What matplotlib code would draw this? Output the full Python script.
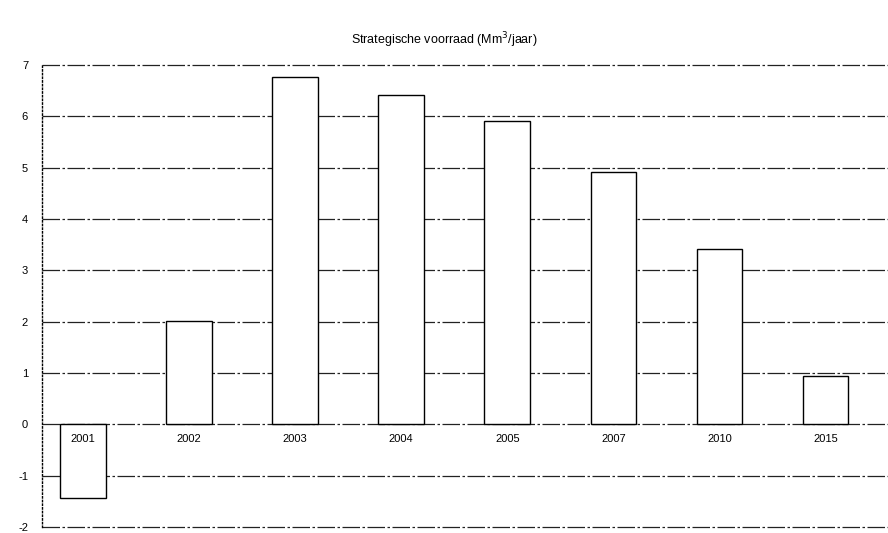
import numpy as np
import matplotlib
matplotlib.use('Agg')
import matplotlib.pyplot as plt

plt.rcParams['font.family'] = ['Liberation Sans', 'DejaVu Sans']

jaren = ['2001', '2002', '2003', '2004', '2005', '2007', '2010', '2015']
voorraad = [-1.44, 2.01, 6.77, 6.41, 5.91, 4.91, 3.41, 0.95]
yticks = [-2, -1, 0, 1, 2, 3, 4, 5, 6, 7]

fig = plt.figure(figsize=(8.88, 5.33), dpi=100)
bot = 527
ax = fig.add_axes([42/888, 1-bot/533, 1-42/888, (bot-65)/533])

x = np.arange(len(jaren))
ax.bar(x, voorraad, width=0.43, color='white', edgecolor='black', linewidth=1.0, zorder=3)

# grid lines, dashed like the scanned original
for y in yticks:
    ax.axhline(y, color='#222222', linewidth=0.9, linestyle=(0, (14, 2, 2, 2)), zorder=1, clip_on=False)

for i, lab in enumerate(jaren):
    ax.text(x[i], -0.18, lab, ha='center', va='top', fontsize=8, zorder=4)

ax.set_xlim(-0.387, 7.59)
ax.set_ylim(-2, 7)
ax.set_xticks([])
ax.set_yticks(yticks)
ax.set_yticklabels([str(t) for t in yticks], fontsize=8)
ax.tick_params(axis='y', length=0, pad=10)

for s in ['top', 'right', 'bottom']:
    ax.spines[s].set_visible(False)
ax.spines['left'].set_linestyle(':')
ax.spines['left'].set_linewidth(1.0)

fig.text(0.5, 1-40/533, 'Strategische voorraad (Mm$^3$/jaar)', ha='center', va='center', fontsize=9)

fig.savefig('out.png', dpi=100)
